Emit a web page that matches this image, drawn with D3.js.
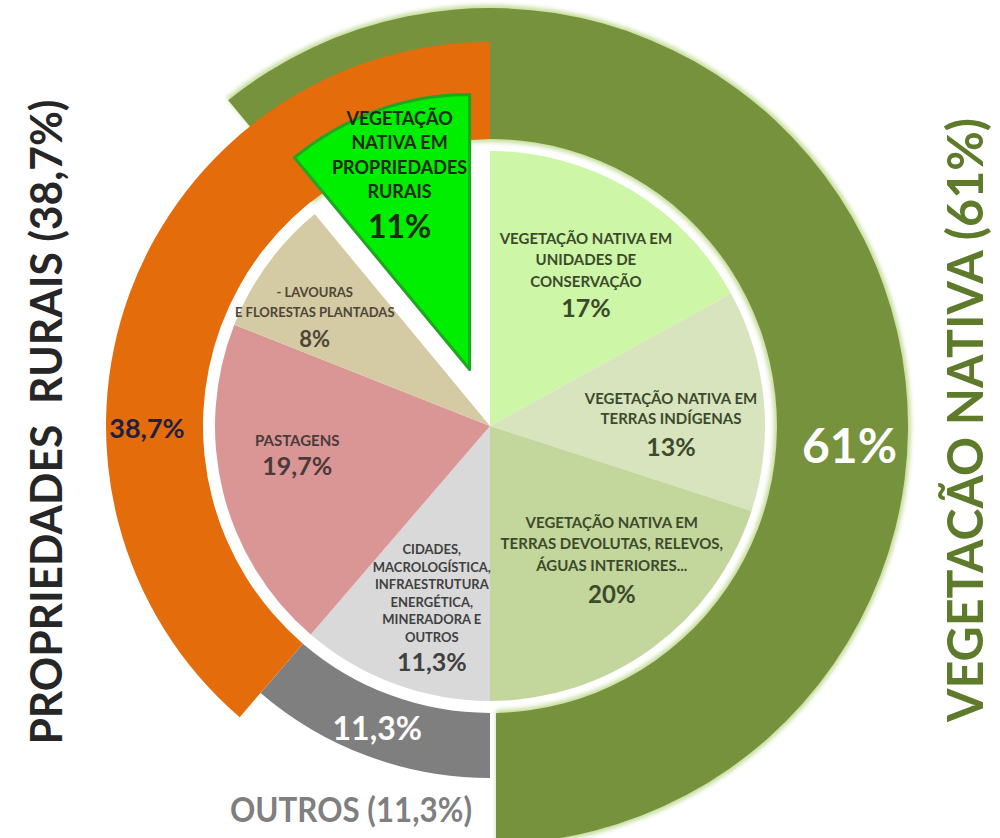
<!DOCTYPE html>
<html>
<head>
<meta charset="utf-8">
<script src="https://cdn.jsdelivr.net/npm/d3@7"></script>
<style>
  body { margin: 0; background: #fff; }
  svg text { font-family: Lato, 'Open Sans', sans-serif; font-weight: 700; }
</style>
</head>
<body>
<div id="chart"></div>
<script>
// --- data -------------------------------------------------------------
// inner pie, clockwise from 12 o'clock
const sliceNames  = ['VN_UC', 'VN_TI', 'VN_DEV', 'CIDADES', 'PASTAGENS', 'LAVOURAS', 'VN_PROP'];
const sliceValues = [17, 13, 20, 11.3, 19.7, 8, 11];
const sliceLines  = [
  ['VEGETAÇÃO NATIVA EM', 'UNIDADES DE', 'CONSERVAÇÃO'],
  ['VEGETAÇÃO NATIVA EM', 'TERRAS INDÍGENAS'],
  ['VEGETAÇÃO NATIVA EM', 'TERRAS DEVOLUTAS, RELEVOS,', 'ÁGUAS INTERIORES...'],
  ['CIDADES,', 'MACROLOGÍSTICA,', 'INFRAESTRUTURA', 'ENERGÉTICA,', 'MINERADORA E', 'OUTROS'],
  ['PASTAGENS'],
  ['- LAVOURAS', 'E FLORESTAS PLANTADAS'],
  ['VEGETAÇÃO', 'NATIVA EM', 'PROPRIEDADES', 'RURAIS']
];
const slicePct    = ['17%', '13%', '20%', '11,3%', '19,7%', '8%', '11%'];
const explodedSlice = 'VN_PROP';

// outer ring: which inner slices each group covers (clockwise)
const groupNames   = ['VEGETAÇÃO NATIVA', 'OUTROS', 'PROPRIEDADES RURAIS'];
const groupMembers = [['VN_PROP', 'VN_UC', 'VN_TI', 'VN_DEV'], ['CIDADES'], ['PASTAGENS', 'LAVOURAS', 'VN_PROP']];
const groupPct     = ['61%', '11,3%', '38,7%'];
const groupTitles  = ['VEGETACÃO NATIVA (61%)', 'OUTROS (11,3%)', 'PROPRIEDADES  RURAIS (38,7%)'];

// --- styles / layout ----------------------------------------------------
const sliceColors = ['#cdf6a6', '#d7e4bd', '#c3d69b', '#d9d9d9', '#d99694', '#d4caa3', '#00ee00'];
const groupColors = ['#76923c', '#7f7f7f', '#e46c0a'];

const labelStyle = [
  {fs: 15, lh: 21.5, ps: 25, gap: 30, nudge: 1.8,  r: 179, fill: '#3c4a2c'},
  {fs: 15, lh: 20,   ps: 25, gap: 32, nudge: 5,    r: 181, fill: '#3c4a2c'},
  {fs: 15, lh: 21.5, ps: 24, gap: 32, nudge: -6.3, r: 181, fill: '#3c4a2c'},
  {fs: 13, lh: 17.5, ps: 25, gap: 29, nudge: -2.6, r: 191, fill: '#404040'},
  {fs: 15, lh: 0,    ps: 25, gap: 29, nudge: 5.2,  r: 195, fill: '#4a3a3a'},
  {fs: 13, lh: 20,   ps: 22, gap: 30, nudge: -4.3, r: 206, fill: '#4d4636'},
  {fs: 18, lh: 24.5, ps: 32, gap: 40, nudge: 0,    r: 207, fill: '#1c2a12'}
];

const width = 1000, height = 838;
const cx = 490, cy = 426;
const pieR = 275, ringInner = 287;
const ringOuter = [418, 352, 384];
const explodeDist = 60;

const svg = d3.select('#chart')
  .append('svg')
    .attr('width', width)
    .attr('height', height);

const defs = svg.append('defs');
defs.append('filter').attr('id', 'soft')
  .append('feGaussianBlur').attr('stdDeviation', 2);

const root = svg.append('g').attr('transform', `translate(${cx},${cy})`);

// --- pie layout -----------------------------------------------------------
const pie = d3.pie().sort(null).value(d => d.value);
const slices = pie(sliceNames.map((n, i) => ({name: n, value: sliceValues[i], i})));
const byName = {};
slices.forEach(s => byName[s.data.name] = s);

const angleOf = d3.scaleLinear().domain([0, d3.sum(sliceValues)]).range([0, 2 * Math.PI]);
const deg = Math.PI / 180;

// outer ring groups derived from their member slices
const groups = groupNames.map((name, i) => {
  const first = byName[groupMembers[i][0]];
  const span = d3.sum(groupMembers[i], m => byName[m].data.value);
  return {name, i, startAngle: first.startAngle, endAngle: first.startAngle + angleOf(span), outer: ringOuter[i]};
});

const ringArc = d3.arc()
  .innerRadius(ringInner)
  .outerRadius(d => d.outer)
  .padAngle(d => d.i === 0 ? 0.03 : 0)
  .padRadius(400);

// soft light halo under green ring
root.append('path')
  .datum(groups[0])
  .attr('d', d3.arc().innerRadius(ringInner - 3).outerRadius(d => d.outer + 3).padAngle(0.03).padRadius(400))
  .attr('fill', '#c6dd9c')
  .attr('filter', 'url(#soft)');

root.selectAll('path.ring')
  .data(groups)
  .join('path')
    .attr('class', 'ring')
    .attr('d', ringArc)
    .attr('fill', d => groupColors[d.i]);

// --- inner pie ------------------------------------------------------------
const pieArc = d3.arc().innerRadius(0).outerRadius(pieR);

function sliceOffset(d) {
  if (d.data.name !== explodedSlice) return [0, 0];
  const a = (d.startAngle + d.endAngle) / 2;
  return [Math.sin(a) * explodeDist, -Math.cos(a) * explodeDist];
}

root.selectAll('path.slice')
  .data(slices)
  .join('path')
    .attr('class', 'slice')
    .attr('transform', d => `translate(${sliceOffset(d)})`)
    .attr('d', pieArc)
    .attr('fill', d => sliceColors[d.data.i])
    .attr('stroke', d => d.data.name === explodedSlice ? '#1fa51f' : 'none')
    .attr('stroke-width', 3)
    .attr('stroke-linejoin', 'round');

// slice labels
slices.forEach(d => {
  const st = labelStyle[d.data.i];
  const lines = sliceLines[d.data.i];
  const a = (d.startAngle + d.endAngle) / 2 + st.nudge * deg;
  const off = sliceOffset(d);
  const x = off[0] + Math.sin(a) * st.r;
  const y = off[1] - Math.cos(a) * st.r;
  const cap = 0.72 * st.fs;
  const total = (lines.length - 1) * st.lh + st.gap + cap;
  const y0 = y - total / 2 + cap;

  const t = root.append('text')
    .attr('text-anchor', 'middle')
    .attr('fill', st.fill);
  lines.forEach((ln, k) => {
    t.append('tspan')
      .attr('x', x)
      .attr('y', y0 + k * st.lh)
      .style('font-size', st.fs + 'px')
      .text(ln);
  });
  t.append('tspan')
    .attr('x', x)
    .attr('y', y0 + (lines.length - 1) * st.lh + st.gap)
    .style('font-size', st.ps + 'px')
    .text(slicePct[d.data.i]);
});

// --- ring value labels ----------------------------------------------------
const groupLabel = [
  {angle: 93,  r: 360, fs: 48, fill: '#ffffff'},
  {angle: 200.5, r: 322, fs: 32, fill: '#ffffff'},
  {angle: 269.8, r: 343, fs: 27, fill: '#1f2040'}
];
groups.forEach(g => {
  const gl = groupLabel[g.i];
  root.append('text')
    .attr('x', Math.sin(gl.angle * deg) * gl.r)
    .attr('y', -Math.cos(gl.angle * deg) * gl.r)
    .attr('text-anchor', 'middle')
    .attr('dominant-baseline', 'central')
    .attr('fill', gl.fill)
    .style('font-size', gl.fs + 'px')
    .text(groupPct[g.i]);
});

// --- titles ---------------------------------------------------------------
svg.append('text')
  .attr('transform', 'translate(62,422) rotate(-90)')
  .attr('text-anchor', 'middle')
  .attr('fill', '#262626')
  .attr('textLength', 645)
  .attr('lengthAdjust', 'spacingAndGlyphs')
  .style('font-size', '44px')
  .style('white-space', 'pre')
  .text(groupTitles[2]);

svg.append('text')
  .attr('transform', 'translate(983,420) rotate(-90)')
  .attr('text-anchor', 'middle')
  .attr('fill', '#5e7b2c')
  .attr('textLength', 604)
  .attr('lengthAdjust', 'spacingAndGlyphs')
  .style('font-size', '50px')
  .text(groupTitles[0]);

svg.append('text')
  .attr('x', 351)
  .attr('y', 822)
  .attr('text-anchor', 'middle')
  .attr('fill', '#7f7f7f')
  .attr('textLength', 242)
  .attr('lengthAdjust', 'spacingAndGlyphs')
  .style('font-size', '34px')
  .text(groupTitles[1]);
</script>
</body>
</html>
